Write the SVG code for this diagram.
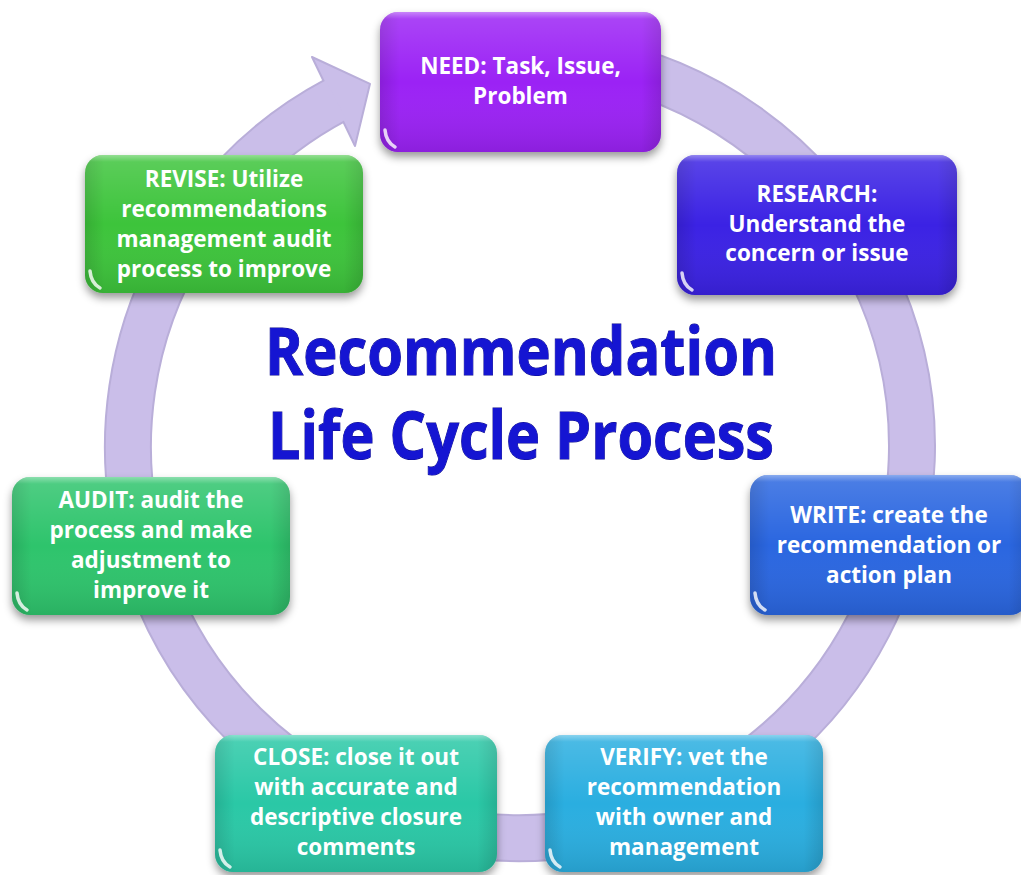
<svg xmlns="http://www.w3.org/2000/svg" width="1021" height="875" viewBox="0 0 1021 875">
  <style>
    .box { filter: url(#drop); }
    .sheen { fill: url(#sheen); }
    .sides { fill: url(#sides); }
    .glint { fill: none; stroke: #ffffff; stroke-width: 3.5; stroke-linecap: round; opacity: 0.8; }
    .label { font-family: "Open Sans", "Liberation Sans", sans-serif; font-weight: 700; font-size: 22.5px; fill: #ffffff; text-anchor: middle; }
    .title { font-family: "Open Sans", "Liberation Sans", sans-serif; font-weight: 700; font-size: 67px; fill: #1515d2; stroke: #0c0c8a; stroke-width: 1; paint-order: stroke; text-anchor: middle; }
    .ring-edge { fill: none; stroke: #b9aed9; stroke-width: 48; }
    .ring { fill: none; stroke: #cabee9; stroke-width: 44; }
    .head { fill: #cabee9; stroke: #b9aed9; stroke-width: 2; stroke-linejoin: round; }
  </style>
  <defs>
    <filter id="drop" x="-10%" y="-10%" width="120%" height="130%">
      <feDropShadow dx="0" dy="5" stdDeviation="4" flood-color="#000000" flood-opacity="0.4"/>
    </filter>
    <linearGradient id="sheen" x1="0" y1="0" x2="0" y2="1">
      <stop offset="0" stop-color="#ffffff" stop-opacity="0.45"/>
      <stop offset="0.05" stop-color="#ffffff" stop-opacity="0.15"/>
      <stop offset="0.5" stop-color="#ffffff" stop-opacity="0"/>
      <stop offset="1" stop-color="#000000" stop-opacity="0.1"/>
    </linearGradient>
    <linearGradient id="sides" x1="0" y1="0" x2="1" y2="0">
      <stop offset="0" stop-color="#000000" stop-opacity="0.12"/>
      <stop offset="0.07" stop-color="#000000" stop-opacity="0"/>
      <stop offset="0.93" stop-color="#000000" stop-opacity="0"/>
      <stop offset="1" stop-color="#000000" stop-opacity="0.12"/>
    </linearGradient>
  </defs>

  <rect width="1021" height="875" fill="#ffffff"/>

  <!-- cycle ring with arrowhead pointing into the first step -->
  <g id="connectors">
    <path class="ring-edge" d="M 588.1 60 A 392 392 0 1 1 336 99.9"/>
    <polygon class="head" points="312,57 370,83.8 355,146"/>
    <path class="ring" d="M 588.1 60 A 392 392 0 1 1 336 99.9"/>
  </g>

  <!-- centre title -->
  <g id="title">
    <text class="title" x="521" y="375" textLength="512" lengthAdjust="spacingAndGlyphs">Recommendation</text>
    <text class="title" x="521" y="459" textLength="506" lengthAdjust="spacingAndGlyphs">Life Cycle Process</text>
  </g>

  <g id="node-need" transform="translate(380,12)">
    <rect class="box" width="281" height="140" rx="18" fill="#9b20f5"/>
    <rect class="sides" width="281" height="140" rx="18"/>
    <rect class="sheen" width="281" height="140" rx="18"/>
    <path class="glint" d="M 5 118 Q 6 130 15 135"/>
    <text class="label" x="140.5" y="61.5">NEED: Task, Issue,</text>
    <text class="label" x="140.5" y="92">Problem</text>
  </g>

  <g id="node-research" transform="translate(677,155)">
    <rect class="box" width="280" height="140" rx="18" fill="#3a22e4"/>
    <rect class="sides" width="280" height="140" rx="18"/>
    <rect class="sheen" width="280" height="140" rx="18"/>
    <path class="glint" d="M 5 118 Q 6 130 15 135"/>
    <text class="label" x="140" y="47">RESEARCH:</text>
    <text class="label" x="140" y="77">Understand the</text>
    <text class="label" x="140" y="106">concern or issue</text>
  </g>

  <g id="node-write" transform="translate(750,475)">
    <rect class="box" width="278" height="140" rx="18" fill="#2a66e0"/>
    <rect class="sides" width="278" height="140" rx="18"/>
    <rect class="sheen" width="278" height="140" rx="18"/>
    <path class="glint" d="M 5 118 Q 6 130 15 135"/>
    <text class="label" x="139" y="47.5">WRITE: create the</text>
    <text class="label" x="139" y="78">recommendation or</text>
    <text class="label" x="139" y="108">action plan</text>
  </g>

  <g id="node-verify" transform="translate(545,735)">
    <rect class="box" width="278" height="137" rx="18" fill="#2aaee0"/>
    <rect class="sides" width="278" height="137" rx="18"/>
    <rect class="sheen" width="278" height="137" rx="18"/>
    <path class="glint" d="M 5 115 Q 6 127 15 132"/>
    <text class="label" x="139" y="30">VERIFY: vet the</text>
    <text class="label" x="139" y="60">recommendation</text>
    <text class="label" x="139" y="90">with owner and</text>
    <text class="label" x="139" y="120">management</text>
  </g>

  <g id="node-close" transform="translate(215,735)">
    <rect class="box" width="282" height="137" rx="18" fill="#2bc8a6"/>
    <rect class="sides" width="282" height="137" rx="18"/>
    <rect class="sheen" width="282" height="137" rx="18"/>
    <path class="glint" d="M 5 115 Q 6 127 15 132"/>
    <text class="label" x="141" y="30">CLOSE: close it out</text>
    <text class="label" x="141" y="60">with accurate and</text>
    <text class="label" x="141" y="90">descriptive closure</text>
    <text class="label" x="141" y="120">comments</text>
  </g>

  <g id="node-audit" transform="translate(12,477)">
    <rect class="box" width="278" height="138" rx="18" fill="#2fc46c"/>
    <rect class="sides" width="278" height="138" rx="18"/>
    <rect class="sheen" width="278" height="138" rx="18"/>
    <path class="glint" d="M 5 116 Q 6 128 15 133"/>
    <text class="label" x="139" y="31">AUDIT: audit the</text>
    <text class="label" x="139" y="61">process and make</text>
    <text class="label" x="139" y="91">adjustment to</text>
    <text class="label" x="139" y="121">improve it</text>
  </g>

  <g id="node-revise" transform="translate(85,155)">
    <rect class="box" width="278" height="138" rx="18" fill="#3ec43a"/>
    <rect class="sides" width="278" height="138" rx="18"/>
    <rect class="sheen" width="278" height="138" rx="18"/>
    <path class="glint" d="M 5 116 Q 6 128 15 133"/>
    <text class="label" x="139" y="32">REVISE: Utilize</text>
    <text class="label" x="139" y="62">recommendations</text>
    <text class="label" x="139" y="92">management audit</text>
    <text class="label" x="139" y="122">process to improve</text>
  </g>
</svg>
